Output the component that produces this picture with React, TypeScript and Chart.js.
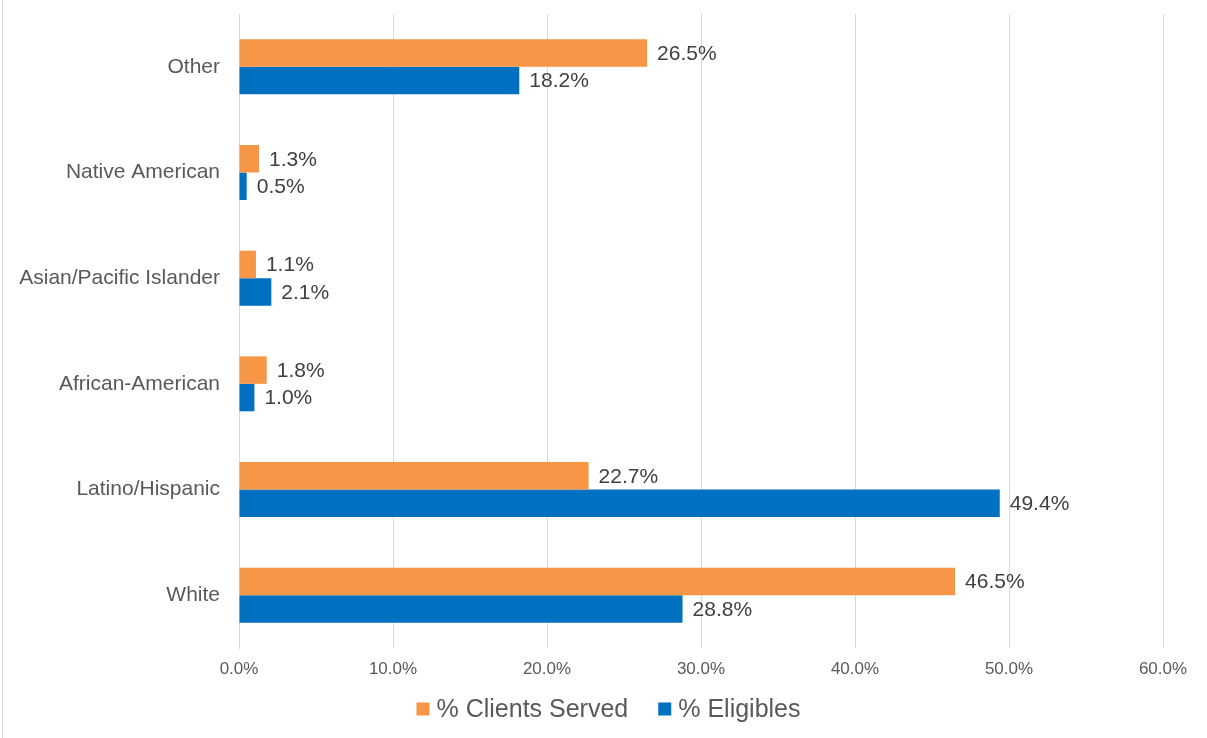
import React, { useEffect, useRef } from 'react';
import { Chart, registerables } from 'chart.js';

Chart.register(...registerables);

const categories = ['Other', 'Native American', 'Asian/Pacific Islander', 'African-American', 'Latino/Hispanic', 'White'];
const clientsServed = [26.5, 1.3, 1.1, 1.8, 22.7, 46.5];
const eligibles = [18.2, 0.5, 2.1, 1.0, 49.4, 28.8];
const seriesNames = ['% Clients Served', '% Eligibles'];
const seriesColors = ['#F79646', '#0070C0'];
const axisMin = 0;
const axisMax = 60;
const axisStep = 10;

const FONT = '"Liberation Sans", Arial, sans-serif';

const valueLabels = {
  id: 'valueLabels',
  afterDatasetsDraw(chart: any) {
    const ctx = chart.ctx;
    ctx.save();
    ctx.font = `21px ${FONT}`;
    ctx.fillStyle = '#404040';
    ctx.textBaseline = 'middle';
    ctx.textAlign = 'left';
    chart.data.datasets.forEach((ds: any, i: number) => {
      const meta = chart.getDatasetMeta(i);
      meta.data.forEach((bar: any, j: number) => {
        ctx.fillText(Number(ds.data[j]).toFixed(1) + '%', bar.x + 10, bar.y + 1);
      });
    });
    ctx.restore();
  },
};

const customLegend = {
  id: 'customLegend',
  afterDraw(chart: any) {
    const ctx = chart.ctx;
    ctx.save();
    ctx.font = `25px ${FONT}`;
    ctx.textBaseline = 'middle';
    ctx.textAlign = 'left';
    const box = 13;
    const gap = 7;
    const itemGap = 30;
    const widths = seriesNames.map((n) => ctx.measureText(n).width);
    const total = widths.reduce((a, w) => a + box + gap + w, 0) + itemGap * (seriesNames.length - 1);
    let x = chart.width / 2 + 5 - total / 2;
    const cy = 709;
    seriesNames.forEach((n, i) => {
      ctx.fillStyle = seriesColors[i];
      ctx.fillRect(x, cy - box / 2, box, box);
      x += box + gap;
      ctx.fillStyle = '#595959';
      ctx.fillText(n, x, cy + 1);
      x += widths[i] + itemGap;
    });
    ctx.restore();
  },
};

export default function App() {
  const ref = useRef<HTMLCanvasElement>(null);

  useEffect(() => {
    document.body.style.margin = '0';
    const canvas = ref.current;
    if (!canvas) return;
    const chart = new Chart(canvas, {
      type: 'bar',
      data: {
        labels: categories,
        datasets: [
          {
            label: seriesNames[0],
            data: clientsServed,
            backgroundColor: seriesColors[0],
            barPercentage: 1,
            categoryPercentage: 0.52,
          },
          {
            label: seriesNames[1],
            data: eligibles,
            backgroundColor: seriesColors[1],
            barPercentage: 1,
            categoryPercentage: 0.52,
          },
        ],
      },
      options: {
        indexAxis: 'y',
        animation: false,
        responsive: false,
        maintainAspectRatio: false,
        layout: { padding: { top: 14, right: 44, left: 0, bottom: 0 } },
        plugins: {
          legend: { display: false },
          tooltip: { enabled: false },
        },
        scales: {
          x: {
            min: axisMin,
            max: axisMax,
            grid: { color: '#d9d9d9', drawTicks: false, lineWidth: 1 },
            border: { display: false },
            ticks: {
              stepSize: axisStep,
              padding: 11,
              color: '#595959',
              font: { family: FONT, size: 17 },
              callback: (v: any) => Number(v).toFixed(1) + '%',
            },
            afterFit: (scale: any) => {
              scale.height = 90;
              scale.paddingLeft = 0;
              scale.paddingRight = 0;
            },
          },
          y: {
            grid: { display: false, drawTicks: false },
            border: { display: true, color: '#d9d9d9', width: 1 },
            ticks: {
              padding: 19,
              color: '#595959',
              font: { family: FONT, size: 21 },
            },
            afterFit: (scale: any) => {
              scale.width = 239;
              scale.paddingTop = 0;
              scale.paddingBottom = 0;
            },
          },
        },
      },
      plugins: [valueLabels, customLegend],
    });
    return () => chart.destroy();
  }, []);

  return (
    <div style={{ position: 'relative', width: 1207, height: 738, background: '#fff' }}>
      <div style={{ position: 'absolute', left: 2, top: 0, width: 1, height: 738, background: '#d9d9d9' }} />
      <canvas ref={ref} width={1207} height={738} style={{ display: 'block', width: 1207, height: 738 }} />
    </div>
  );
}
